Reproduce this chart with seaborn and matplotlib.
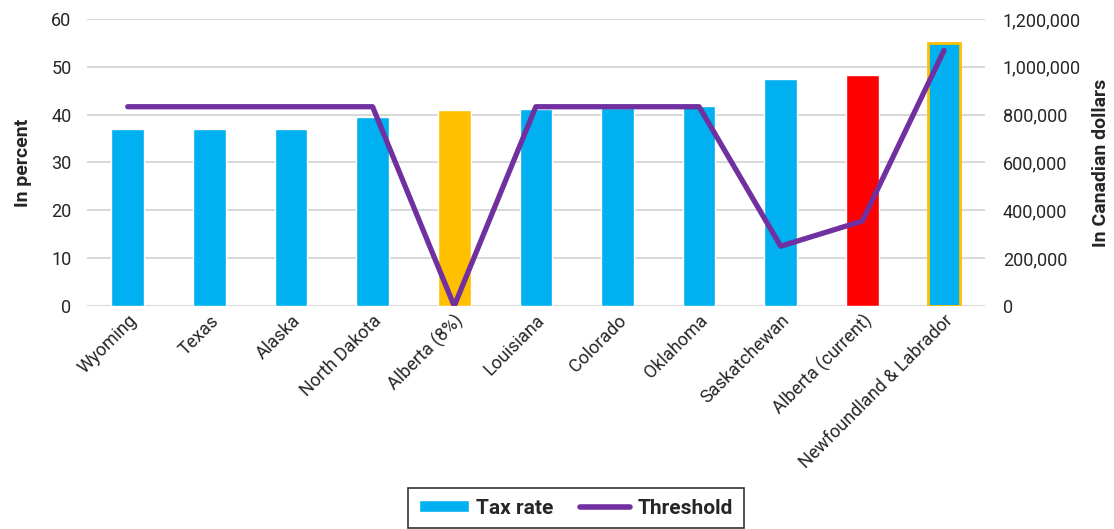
import numpy as np
import pandas as pd
import matplotlib
matplotlib.use("Agg")
import matplotlib.pyplot as plt
import seaborn as sns
from matplotlib.patches import Patch
from matplotlib.lines import Line2D
from matplotlib.ticker import FuncFormatter

categories = ["Wyoming", "Texas", "Alaska", "North Dakota", "Alberta (8%)", "Louisiana",
              "Colorado", "Oklahoma", "Saskatchewan", "Alberta (current)",
              "Newfoundland & Labrador"]
tax_rate = [37.0, 37.0, 37.0, 39.6, 41.0, 41.1, 41.3, 41.7, 47.5, 48.2, 55.0]
threshold = [833000, 833000, 833000, 833000, 0, 833000, 833000, 833000, 250000, 355000, 1068000]
bar_colors = ["#00B0F0"] * 4 + ["#FFC000"] + ["#00B0F0"] * 4 + ["#FF0000", "#00B0F0"]

sns.set_theme(style="white")
plt.rcParams['font.family'] = ['Roboto', 'DejaVu Sans']

fig = plt.figure(figsize=(11.14, 5.29), dpi=100)
ax = fig.add_axes([0.078, 0.4216, 0.806, 0.5426])

df = pd.DataFrame({"cat": categories, "rate": tax_rate})
sns.barplot(data=df, x="cat", y="rate", hue="cat", palette=bar_colors, legend=False,
            width=0.4, ax=ax, saturation=1, zorder=3)
# Newfoundland bar has gold outline
nl = ax.patches[-1]
nl.set_edgecolor("#FFC000")
nl.set_linewidth(2)

ax.set_ylim(0, 60)
ax.set_yticks(range(0, 61, 10))
ax.yaxis.grid(True, color="#D9D9D9", linewidth=1.5, zorder=0)
ax.set_axisbelow(True)
for s in ax.spines.values():
    s.set_visible(False)
ax.set_xlim(-0.5, len(categories) - 0.5)
ax.set_xlabel("")
ax.set_ylabel("In percent", fontsize=14, fontweight="bold", labelpad=14)
ax.tick_params(axis="y", labelsize=13, length=0, pad=11)
ax.tick_params(axis="x", labelsize=13, length=0, pad=4)
plt.setp(ax.get_xticklabels(), rotation=45, ha="right", rotation_mode="anchor")

ax2 = ax.twinx()
sns.lineplot(x=np.arange(len(categories)), y=threshold, ax=ax2, color="#7030A0",
             linewidth=3.8, zorder=5)
ax2.set_ylim(0, 1200000)
ax2.set_yticks(range(0, 1200001, 200000))
ax2.yaxis.set_major_formatter(FuncFormatter(lambda v, p: f"{int(v):,}"))
for s in ax2.spines.values():
    s.set_visible(False)
ax2.tick_params(axis="y", labelsize=13, length=0, pad=13)
ax2.set_ylabel("In Canadian dollars", fontsize=14, fontweight="bold", labelpad=8)
ax2.grid(False)

handles = [Patch(facecolor="#00B0F0", label="Tax rate"),
           Line2D([0], [0], color="#7030A0", linewidth=4, label="Threshold")]
leg = fig.legend(handles=handles, loc="upper center", bbox_to_anchor=(0.517, 0.097),
                 ncol=2, frameon=True, fancybox=False, edgecolor="black",
                 prop={"weight": "bold", "size": 15}, handlelength=2.4,
                 handleheight=0.5, handletextpad=0.35,
                 columnspacing=1.3, borderpad=0.5)
leg.get_frame().set_linewidth(1.2)

fig.savefig("out.png", dpi=100)
